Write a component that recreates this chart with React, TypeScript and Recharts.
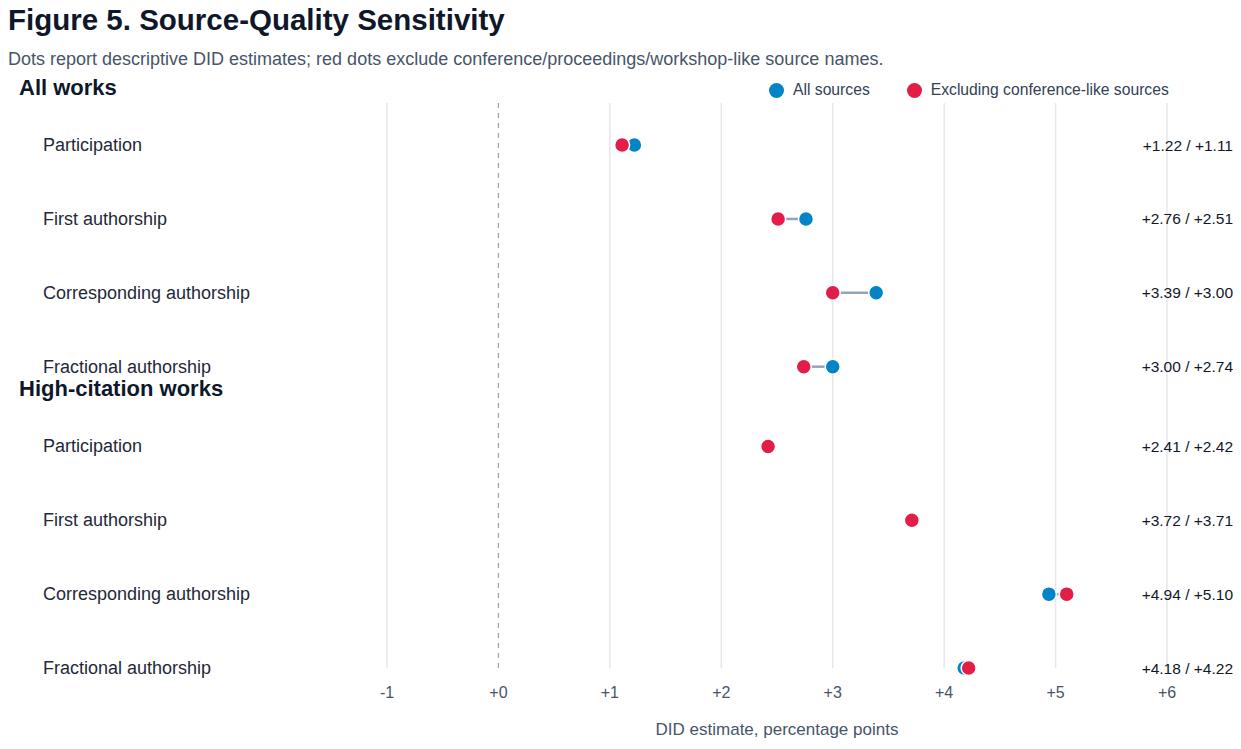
import {
  ComposedChart,
  Scatter,
  XAxis,
  YAxis,
  ReferenceLine,
} from "recharts";

const sections = ["All works", "High-citation works"];
const outcomes = [
  "Participation",
  "First authorship",
  "Corresponding authorship",
  "Fractional authorship",
];
// DID estimates, percentage points (all works rows, then high-citation rows)
const allSources = [1.22, 2.76, 3.39, 3.0, 2.41, 3.72, 4.94, 4.18];
const excludingConference = [1.11, 2.51, 3.0, 2.74, 2.42, 3.71, 5.1, 4.22];
const xTicks = [-1, 0, 1, 2, 3, 4, 5, 6];

const BLUE = "#0284c7";
const RED = "#e11d48";
const FONT = '"Liberation Sans", Arial, Helvetica, sans-serif';

const W = 1241;
const H = 749;
// extra space between the two section blocks, in row units
const SECTION_GAP = 0.08;

const rowLabels = sections.flatMap(() => outcomes);
const rowIndex = rowLabels.map((_, i) => i);
const rowY = rowIndex.map((i) => i + Math.floor(i / outcomes.length) * SECTION_GAP);

const blueData = allSources.map((v, i) => ({ x: v, y: rowY[i], row: i }));
const redData = excludingConference.map((v, i) => ({ x: v, y: rowY[i], row: i }));

const signed = (v: number, digits = 2) =>
  (v < 0 ? "-" : "+") + Math.abs(v).toFixed(digits);

const Dot = (color: string) => (props: any) => (
  <circle
    cx={props.cx}
    cy={props.cy}
    r={7.5}
    fill={color}
    stroke="#ffffff"
    strokeWidth={1.5}
  />
);

function RowTick(props: any) {
  const { y, payload } = props;
  const i = rowY.indexOf(payload.value as number);
  if (i < 0) return null;
  const header = i % outcomes.length === 0 ? sections[i / outcomes.length] : null;
  return (
    <g fontFamily={FONT}>
      {header && (
        <text
          x={19}
          y={y - 58}
          dominantBaseline="central"
          fontSize={22}
          fontWeight={700}
          fill="#0f172a"
        >
          {header}
        </text>
      )}
      <text x={43} y={y} dominantBaseline="central" fontSize={18} fill="#1f2937">
        {rowLabels[i]}
      </text>
      <text
        x={1233}
        y={y}
        dominantBaseline="central"
        textAnchor="end"
        fontSize={15.5}
        fill="#111827"
      >
        {`${signed(allSources[i])} / ${signed(excludingConference[i])}`}
      </text>
    </g>
  );
}

export default function App() {
  return (
    <div
      style={{
        position: "absolute",
        left: 0,
        top: 0,
        width: W,
        height: H,
        background: "#ffffff",
        fontFamily: FONT,
        overflow: "hidden",
      }}
    >
      <div
        style={{
          position: "absolute",
          left: 8,
          top: 3,
          fontSize: 29.5,
          fontWeight: 700,
          color: "#0f172a",
          whiteSpace: "nowrap",
        }}
      >
        Figure 5. Source-Quality Sensitivity
      </div>
      <div
        style={{
          position: "absolute",
          left: 8,
          top: 49,
          fontSize: 18,
          color: "#475569",
          whiteSpace: "nowrap",
        }}
      >
        Dots report descriptive DID estimates; red dots exclude
        conference/proceedings/workshop-like source names.
      </div>
      <div
        style={{
          position: "absolute",
          left: 769,
          top: 81,
          display: "flex",
          alignItems: "center",
          fontSize: 15.7,
          color: "#334155",
          whiteSpace: "nowrap",
        }}
      >
        <span
          style={{ width: 15, height: 15, borderRadius: 8, background: BLUE, marginRight: 9 }}
        />
        <span style={{ marginRight: 37 }}>All sources</span>
        <span
          style={{ width: 15, height: 15, borderRadius: 8, background: RED, marginRight: 9 }}
        />
        <span>Excluding conference-like sources</span>
      </div>

      <div style={{ position: "absolute", left: 0, top: 0 }}>
        <ComposedChart
          width={W}
          height={H}
          margin={{ top: 103, right: 74, bottom: 9, left: 0 }}
        >
          <XAxis
            type="number"
            dataKey="x"
            domain={[-1, 6]}
            ticks={xTicks}
            tickFormatter={(v: number) => signed(v, 0)}
            axisLine={false}
            tickLine={false}
            tickSize={0}
            tickMargin={19}
            height={72}
            tick={{ fontSize: 16, fill: "#475569", fontFamily: FONT }}
            label={{
              value: "DID estimate, percentage points",
              position: "insideBottom",
              offset: 5,
              fontSize: 17,
              fill: "#475569",
              fontFamily: FONT,
            }}
          />
          <YAxis
            type="number"
            dataKey="y"
            domain={[-0.57, 7.08]}
            reversed
            ticks={rowY}
            interval={0}
            axisLine={false}
            tickLine={false}
            width={387}
            tick={<RowTick />}
          />
          {xTicks
            .filter((t) => t !== 0)
            .map((t) => (
              <ReferenceLine key={t} x={t} stroke="#e5e7eb" strokeWidth={1.5} />
            ))}
          <ReferenceLine x={0} stroke="#9ca3af" strokeWidth={1.2} strokeDasharray="5 5" />
          {rowIndex.map((i) => (
            <ReferenceLine
              key={`seg-${i}`}
              segment={[
                { x: allSources[i], y: rowY[i] },
                { x: excludingConference[i], y: rowY[i] },
              ]}
              stroke="#94a3b8"
              strokeWidth={2.5}
            />
          ))}
          <Scatter
            name="All sources"
            data={blueData}
            fill={BLUE}
            shape={Dot(BLUE)}
            isAnimationActive={false}
          />
          <Scatter
            name="Excluding conference-like sources"
            data={redData}
            fill={RED}
            shape={Dot(RED)}
            isAnimationActive={false}
          />
        </ComposedChart>
      </div>
    </div>
  );
}
